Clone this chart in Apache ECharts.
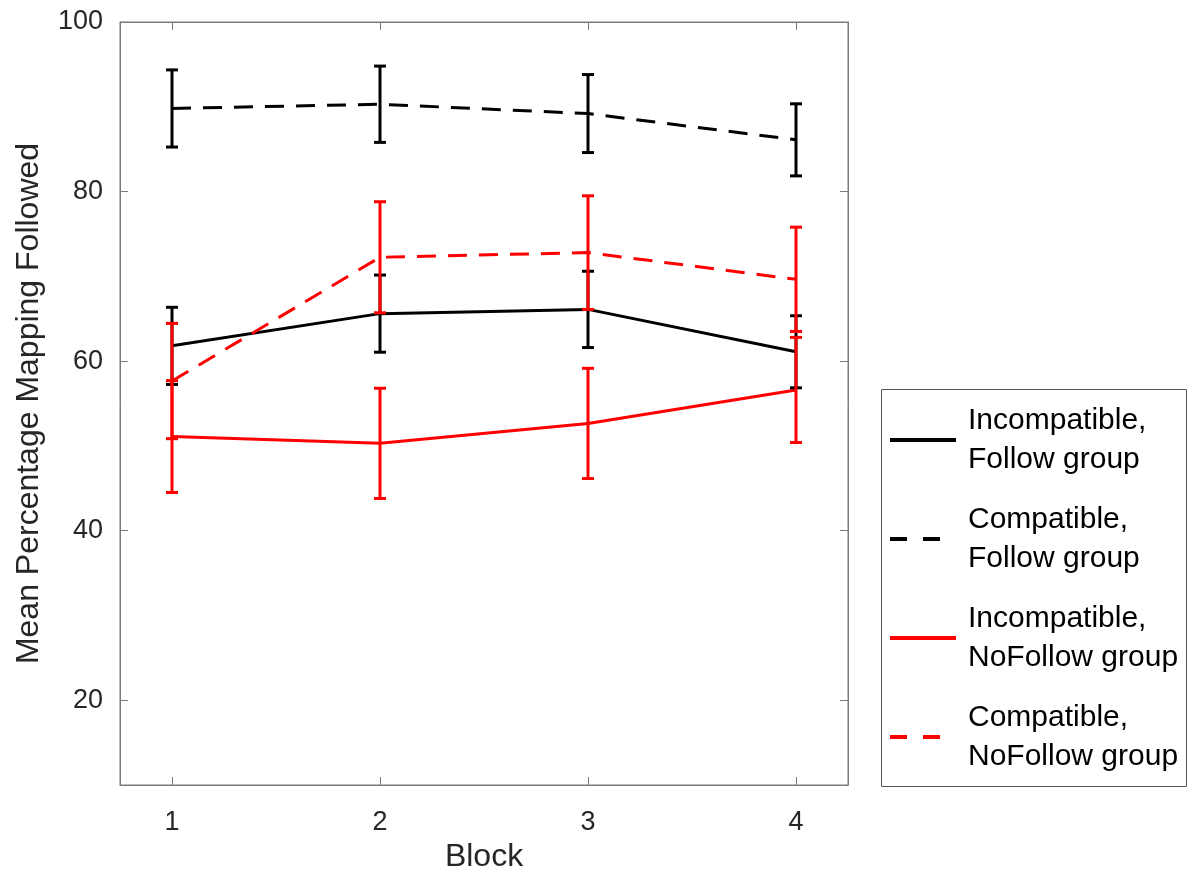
<!DOCTYPE html>
<html>
<head>
<meta charset="utf-8">
<script src="https://cdn.jsdelivr.net/npm/echarts@6/dist/echarts.min.js"></script>
<style>
html,body{margin:0;padding:0;background:#fff;}
#chart{width:1189px;height:870px;}
</style>
</head>
<body>
<div id="chart"></div>
<script>
const blocks = [1, 2, 3, 4];
const xTicks = [1, 2, 3, 4];
const yTicks = [20, 40, 60, 80, 100];

const seriesNames = [
  'Incompatible,\nFollow group',
  'Compatible,\nFollow group',
  'Incompatible,\nNoFollow group',
  'Compatible,\nNoFollow group'
];
const incFollow = [61.8, 65.6, 66.1, 61.1];
const incFollowErr = [4.55, 4.55, 4.5, 4.25];
const compFollow = [89.8, 90.3, 89.2, 86.1];
const compFollowErr = [4.55, 4.5, 4.6, 4.25];
const incNoFollow = [51.1, 50.3, 52.65, 56.6];
const incNoFollowErr = [6.6, 6.5, 6.5, 6.2];
const compNoFollow = [57.65, 72.25, 72.8, 69.65];
const compNoFollowErr = [6.8, 6.55, 6.7, 6.15];

const FONT = 'Liberation Sans';
const SOLID_ICON = 'path://M0,0h66v4h-66z';
const DASH_ICON = 'path://M0,0h17v4h-17zM33,0h17v4h-17zM65.99,0h0.01v4h-0.01z';

const groups = [
  {name: seriesNames[0], vals: incFollow, err: incFollowErr, color: '#000000', dash: 'solid', icon: SOLID_ICON},
  {name: seriesNames[1], vals: compFollow, err: compFollowErr, color: '#000000', dash: [19, 12], icon: DASH_ICON},
  {name: seriesNames[2], vals: incNoFollow, err: incNoFollowErr, color: '#ff0000', dash: 'solid', icon: SOLID_ICON},
  {name: seriesNames[3], vals: compNoFollow, err: compNoFollowErr, color: '#ff0000', dash: [19, 12], icon: DASH_ICON}
];

const series = [];
groups.forEach(function (g) {
  series.push({
    name: g.name,
    type: 'line',
    data: blocks.map(function (b, i) { return [b, g.vals[i]]; }),
    symbol: 'none',
    showSymbol: false,
    color: g.color,
    lineStyle: {color: g.color, width: 3, type: g.dash},
    itemStyle: {color: g.color},
    z: 3,
    animation: false
  });
  series.push({
    type: 'custom',
    data: blocks.map(function (b, i) { return [b, g.vals[i] - g.err[i], g.vals[i] + g.err[i]]; }),
    z: 4,
    animation: false,
    renderItem: function (params, api) {
      const x = api.value(0);
      const p1 = api.coord([x, api.value(1)]);
      const p2 = api.coord([x, api.value(2)]);
      const w = 6;
      const st = {stroke: g.color, lineWidth: 3};
      return {
        type: 'group',
        children: [
          {type: 'line', shape: {x1: p1[0], y1: p1[1], x2: p2[0], y2: p2[1]}, style: st},
          {type: 'line', shape: {x1: p1[0] - w, y1: p1[1], x2: p1[0] + w, y2: p1[1]}, style: st},
          {type: 'line', shape: {x1: p2[0] - w, y1: p2[1], x2: p2[0] + w, y2: p2[1]}, style: st}
        ]
      };
    }
  });
});

const axisColor = '#7a7a7a';
const labelColor = '#262626';

const option = {
  backgroundColor: '#ffffff',
  animation: false,
  grid: {left: 120, top: 22, right: 341, bottom: 85, show: true, borderColor: axisColor, borderWidth: 1,
         backgroundColor: 'transparent', containLabel: false, outerBoundsMode: 'none'},
  legend: {
    data: groups.map(function (g) {
      return {name: g.name, icon: g.icon, itemStyle: {color: g.color, borderWidth: 0}};
    }),
    orient: 'vertical',
    left: 885,
    top: 396,
    itemWidth: 66,
    itemHeight: 4,
    itemGap: 21,
    textStyle: {fontFamily: FONT, fontSize: 30, color: '#000', lineHeight: 39, padding: [0, 0, 0, 7]},
    selectedMode: false
  },
  graphic: [
    {type: 'rect', shape: {x: 881.5, y: 389.5, width: 305, height: 397}, style: {fill: 'none', stroke: '#555', lineWidth: 1}, z: 0}
  ],
  xAxis: [
    {
      type: 'value', min: 0.75, max: 4.25, position: 'bottom',
      name: 'Block', nameLocation: 'middle', nameGap: 54,
      nameTextStyle: {fontFamily: FONT, fontSize: 32, color: labelColor},
      axisLine: {show: true, lineStyle: {color: axisColor}},
      axisTick: {show: true, inside: true, length: 8, lineStyle: {color: axisColor}, customValues: xTicks},
      axisLabel: {customValues: xTicks, fontFamily: FONT, fontSize: 27, color: labelColor, margin: 24},
      splitLine: {show: false}
    },
    {
      type: 'value', min: 0.75, max: 4.25, position: 'top',
      axisLine: {show: true, lineStyle: {color: axisColor}},
      axisTick: {show: true, inside: true, length: 8, lineStyle: {color: axisColor}, customValues: xTicks},
      axisLabel: {show: false, customValues: xTicks},
      splitLine: {show: false}
    }
  ],
  yAxis: [
    {
      type: 'value', min: 10, max: 100, position: 'left',
      name: 'Mean Percentage Mapping Followed', nameLocation: 'middle', nameGap: 75,
      nameTextStyle: {fontFamily: FONT, fontSize: 32, color: labelColor},
      axisLine: {show: true, lineStyle: {color: axisColor}},
      axisTick: {show: true, inside: true, length: 8, lineStyle: {color: axisColor}, customValues: yTicks},
      axisLabel: {customValues: yTicks, fontFamily: FONT, fontSize: 27, color: labelColor, margin: 17},
      splitLine: {show: false}
    },
    {
      type: 'value', min: 10, max: 100, position: 'right',
      axisLine: {show: true, lineStyle: {color: axisColor}},
      axisTick: {show: true, inside: true, length: 8, lineStyle: {color: axisColor}, customValues: yTicks},
      axisLabel: {show: false, customValues: yTicks},
      splitLine: {show: false}
    }
  ],
  series: series
};

const chart = echarts.init(document.getElementById('chart'), null, {renderer: 'canvas'});
chart.setOption(option);
</script>
</body>
</html>
